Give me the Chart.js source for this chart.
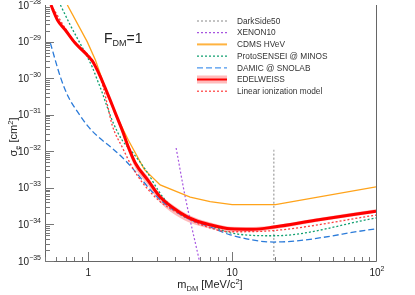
<!DOCTYPE html>
<html>
<head>
<meta charset="utf-8">
<script src="https://cdn.jsdelivr.net/npm/chart.js@4.4.1/dist/chart.umd.min.js"></script>
<style>
  html, body { margin: 0; padding: 0; background: #fff; }
  #chart { display: block; }
</style>
</head>
<body>
<canvas id="chart" width="415" height="295"></canvas>
<script>
// dark matter mass in MeV/c^2, cross section in cm^2
const edwMass = [0.55, 0.61, 0.69, 0.81, 0.95, 1.066, 1.12, 1.21, 1.31, 1.42, 1.54, 1.72, 1.9, 2.12, 2.6, 3.16, 4.36, 5.5, 7, 9.7, 14, 19.5, 40, 100];
const edwSigma = [1.0e-28, 3.9e-29, 2.1e-29, 9.1e-30, 4.9e-30, 2.95e-30, 2.1e-30, 1.12e-30, 5.4e-31, 2.5e-31, 1.12e-31, 3.8e-32, 1.3e-32, 4.8e-33, 1.6e-33, 5.6e-34, 2.1e-34, 1.3e-34, 9.8e-35, 7.6e-35, 7.4e-35, 8.5e-35, 1.35e-34, 2.3e-34];
const edwBandHigh = [1.07e-28, 4.2e-29, 2.2e-29, 9.8e-30, 5.4e-30, 3.3e-30, 2.3e-30, 1.25e-30, 6.0e-31, 2.8e-31, 1.3e-31, 4.4e-32, 1.55e-32, 5.8e-33, 2.0e-33, 6.8e-34, 2.5e-34, 1.55e-34, 1.15e-34, 8.7e-35, 8.5e-35, 9.5e-35, 1.5e-34, 2.6e-34];
const edwBandLow = [9.3e-29, 3.6e-29, 1.95e-29, 8.3e-30, 4.4e-30, 2.6e-30, 1.85e-30, 9.5e-31, 4.5e-31, 2.0e-31, 8.9e-32, 2.9e-32, 9.8e-33, 3.5e-33, 1.17e-33, 4.0e-34, 1.5e-34, 1.0e-34, 7.8e-35, 6.3e-35, 6.3e-35, 7.4e-35, 1.2e-34, 2.1e-34];

const linMass = [0.55, 0.8, 0.97, 1.1, 1.25, 1.36, 1.47, 1.72, 2.02, 2.41, 3.16, 4.15, 6, 9.7, 19.5, 100];
const linSigma = [1.0e-28, 1.0e-29, 4.9e-30, 2.5e-30, 7.1e-31, 1.8e-31, 5.0e-32, 1.3e-32, 3.7e-33, 1.3e-33, 4.2e-34, 2.1e-34, 1.0e-34, 6.3e-35, 6.8e-35, 1.8e-34];

const protoMass = [0.64, 0.75, 0.852, 0.984, 1.066, 1.155, 1.25, 1.355, 1.49, 1.72, 2.0, 2.49, 3.3, 4.36, 6.8, 9.7, 19.5, 100];
const protoSigma = [1.0e-28, 2.8e-29, 1.1e-29, 3.8e-30, 2.0e-30, 8.9e-31, 4.0e-31, 1.6e-31, 6.0e-32, 2.0e-32, 1.0e-32, 3.2e-33, 5.6e-34, 1.9e-34, 1.0e-34, 5.9e-35, 4.9e-35, 1.5e-34];

const damicMass = [0.545, 0.64, 0.726, 0.852, 1.0, 1.17, 1.47, 1.81, 2.12, 2.83, 3.89, 5.11, 7.03, 9.7, 19.5, 100];
const damicSigma = [9.1e-30, 1.07e-30, 3.1e-31, 1.12e-31, 4.7e-32, 2.5e-32, 1.2e-32, 5.6e-33, 2.8e-33, 7.2e-34, 2.5e-34, 1.35e-34, 8.5e-35, 5.2e-35, 3.3e-35, 7.6e-35];

const cdmsMass = [0.715, 0.984, 1.12, 1.31, 1.62, 1.9, 2.45, 3.16, 5.11, 7.03, 10, 20, 100];
const cdmsSigma = [1.0e-28, 9.8e-30, 3.16e-30, 5.4e-31, 7.2e-32, 2.0e-32, 3.2e-33, 1.2e-33, 5.6e-34, 4.2e-34, 3.5e-34, 3.5e-34, 1.07e-33];

const xenonMass = [4.08, 4.72, 5.9];
const xenonSigma = [1.23e-32, 5.6e-34, 1.07e-35];

const dsMass = [19.5, 19.5];
const dsSigma = [1.1e-32, 1.0e-35];

const legendLabels = ["DarkSide50", "XENON10", "CDMS HVeV", "ProtoSENSEI @ MINOS", "DAMIC @ SNOLAB", "EDELWEISS", "Linear ionization model"];
const xTickValues = [1, 10, 100];
const yTickExps = [-28, -29, -30, -31, -32, -33, -34, -35];

const FONT = "'Liberation Sans', Arial, sans-serif";
const AXIS = "#666";

function pts(xs, ys) {
  return xs.map((x, i) => ({ x: x, y: ys[i] }));
}

function line(label, xs, ys, color, width, dash, order) {
  return {
    label: label,
    data: pts(xs, ys),
    borderColor: color,
    borderWidth: width,
    borderDash: dash,
    pointRadius: 0,
    fill: false,
    cubicInterpolationMode: "monotone",
    order: order
  };
}

// draws text made of pieces with different sizes / offsets (sub and superscripts)
function drawParts(ctx, parts, x, y, align) {
  let total = 0;
  parts.forEach(p => {
    ctx.font = p.size + "px " + FONT;
    p.w = ctx.measureText(p.t).width;
    total += p.w;
  });
  let cx = x;
  if (align === "center") cx = x - total / 2;
  if (align === "right") cx = x - total;
  ctx.textAlign = "left";
  ctx.textBaseline = "alphabetic";
  parts.forEach(p => {
    ctx.font = p.size + "px " + FONT;
    ctx.fillText(p.t, cx, y + (p.dy || 0));
    cx += p.w;
  });
}

const decorations = {
  id: "decorations",
  afterDraw(chart) {
    const ctx = chart.ctx;
    const area = chart.chartArea;
    const xs = chart.scales.x;
    const ys = chart.scales.y;
    ctx.save();

    // frame lines: left, bottom, right
    ctx.strokeStyle = AXIS;
    ctx.lineWidth = 1;
    ctx.beginPath();
    ctx.moveTo(area.left + 0.5, area.top);
    ctx.lineTo(area.left + 0.5, area.bottom + 0.5);
    ctx.lineTo(area.right + 0.5, area.bottom + 0.5);
    ctx.lineTo(area.right + 0.5, area.top);
    ctx.stroke();

    // x ticks (inside)
    ctx.strokeStyle = "#777";
    ctx.beginPath();
    for (let d = -1; d <= 1; d++) {
      for (let k = 1; k <= 9; k++) {
        const v = k * Math.pow(10, d);
        if (v < 0.5 || v > 100) continue;
        const px = Math.round(xs.getPixelForValue(v)) + 0.5;
        const len = k === 1 ? 9 : 4;
        ctx.moveTo(px, area.bottom);
        ctx.lineTo(px, area.bottom - len);
      }
    }
    // y ticks (inside)
    for (let e = -35; e < -28; e++) {
      for (let k = 1; k <= 9; k++) {
        const v = k * Math.pow(10, e);
        const py = Math.round(ys.getPixelForValue(v)) + 0.5;
        const len = k === 1 ? 9 : 5;
        ctx.moveTo(area.left, py);
        ctx.lineTo(area.left + len, py);
      }
    }
    ctx.stroke();

    // tick labels
    ctx.fillStyle = "#222";
    xTickValues.forEach(v => {
      const px = xs.getPixelForValue(v);
      if (v === 1) drawParts(ctx, [{ t: "1", size: 10 }], px, 276, "center");
      else if (v === 10) drawParts(ctx, [{ t: "10", size: 10 }], px, 276, "center");
      else drawParts(ctx, [{ t: "10", size: 10 }, { t: "2", size: 7, dy: -5 }], px + 1, 276, "center");
    });
    yTickExps.forEach(e => {
      const py = ys.getPixelForValue(Math.pow(10, e));
      drawParts(ctx, [{ t: "10", size: 10 }, { t: "\u2212" + (-e), size: 7, dy: -5 }], 41, py + 3.5, "right");
    });

    // axis titles
    drawParts(ctx, [
      { t: "m", size: 11 }, { t: "DM", size: 7.5, dy: 2.5 },
      { t: " [MeV/c", size: 11 }, { t: "2", size: 7.5, dy: -4.5 }, { t: "]", size: 11 }
    ], 210, 288, "center");
    ctx.save();
    ctx.translate(17, 137);
    ctx.rotate(-Math.PI / 2);
    drawParts(ctx, [
      { t: "\u03c3", size: 11 }, { t: "e", size: 7.5, dy: 2.5 },
      { t: " [cm", size: 11 }, { t: "2", size: 7.5, dy: -4.5 }, { t: "]", size: 11 }
    ], 0, 0, "center");
    ctx.restore();

    // F_DM = 1
    drawParts(ctx, [{ t: "F", size: 14 }, { t: "DM", size: 9, dy: 3 }, { t: "=1", size: 14 }], 104, 43, "left");

    // legend
    const styles = [
      { c: "#888", w: 1, dash: [2, 2] },
      { c: "#a655e0", w: 1.2, dash: [2, 2] },
      { c: "#ffb340", w: 2, dash: [] },
      { c: "#10a070", w: 1.2, dash: [2, 2] },
      { c: "#4a96ee", w: 1.2, dash: [6, 3] },
      { c: "#ff0000", w: 2, dash: [], band: true },
      { c: "#ff3b3b", w: 1.2, dash: [2, 2] }
    ];
    legendLabels.forEach((name, i) => {
      const y = 21 + i * 11.7;
      const s = styles[i];
      if (s.band) {
        ctx.fillStyle = "rgba(255,60,60,0.35)";
        ctx.fillRect(197, y - 4, 30, 8);
      }
      ctx.strokeStyle = s.c;
      ctx.lineWidth = s.w;
      ctx.setLineDash(s.dash);
      ctx.beginPath();
      ctx.moveTo(197, y);
      ctx.lineTo(227, y);
      ctx.stroke();
      ctx.setLineDash([]);
      ctx.fillStyle = "#333";
      ctx.font = "8.3px " + FONT;
      ctx.textAlign = "left";
      ctx.textBaseline = "middle";
      ctx.fillText(name, 237, y + 0.5);
    });

    ctx.restore();
  }
};

const datasets = [
  {
    label: "band high",
    data: pts(edwMass, edwBandHigh),
    borderWidth: 0,
    pointRadius: 0,
    backgroundColor: "rgba(255,60,60,0.35)",
    fill: "+1",
    cubicInterpolationMode: "monotone",
    order: 20
  },
  {
    label: "band low",
    data: pts(edwMass, edwBandLow),
    borderWidth: 0,
    pointRadius: 0,
    fill: false,
    cubicInterpolationMode: "monotone",
    order: 20
  },
  line("DarkSide50", dsMass, dsSigma, "#888", 1, [2, 2], 8),
  line("XENON10", xenonMass, xenonSigma, "#a655e0", 1.2, [2, 2], 7),
  Object.assign(line("CDMS HVeV", cdmsMass, cdmsSigma, "#ffa31a", 1.3, [], 6), { cubicInterpolationMode: "default", tension: 0 }),
  line("ProtoSENSEI @ MINOS", protoMass, protoSigma, "#10a070", 1.3, [2, 2], 5),
  line("DAMIC @ SNOLAB", damicMass, damicSigma, "#2b7bd9", 1.3, [6, 3], 4),
  line("Linear ionization model", linMass, linSigma, "#ff3b3b", 1.3, [2, 2], 3),
  line("EDELWEISS", edwMass, edwSigma, "#ff0000", 3, [], 1)
];

new Chart(document.getElementById("chart").getContext("2d"), {
  type: "line",
  data: { datasets: datasets },
  options: {
    responsive: false,
    animation: false,
    devicePixelRatio: 1,
    layout: { padding: { left: 45, right: 39, top: 5, bottom: 34 } },
    plugins: { legend: { display: false }, tooltip: { enabled: false } },
    scales: {
      x: { type: "logarithmic", min: 0.5, max: 100, display: false },
      y: { type: "logarithmic", min: 1e-35, max: 1e-28, display: false }
    }
  },
  plugins: [decorations]
});
</script>
</body>
</html>
